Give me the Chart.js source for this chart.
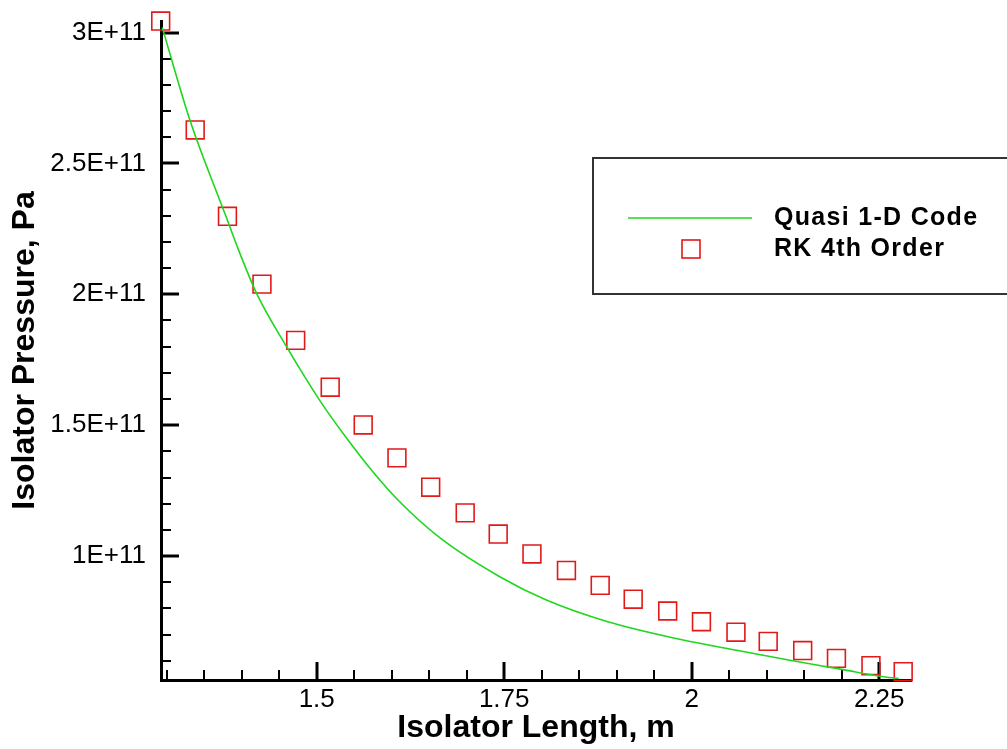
<!DOCTYPE html>
<html>
<head>
<meta charset="utf-8">
<title>Isolator Pressure</title>
<script src="https://cdn.jsdelivr.net/npm/chart.js@4.4.1/dist/chart.umd.min.js"></script>
<style>
  html, body { margin: 0; padding: 0; background: #fff; }
  canvas { display: block; }
</style>
</head>
<body>
<canvas id="pressureChart" width="1007" height="749"></canvas>
<script>
// Quasi 1-D code solution (length in m, pressure in Pa)
const quasiLength = [1.294, 1.331, 1.379, 1.396, 1.420, 1.460, 1.504, 1.540, 1.576, 1.609,
  1.664, 1.744, 1.807, 1.887, 1.984, 2.064, 2.131, 2.202, 2.251, 2.276];
const quasiPressure = [3.020e11, 2.665e11, 2.298e11, 2.168e11, 2.003e11, 1.799e11, 1.595e11, 1.450e11, 1.318e11, 1.212e11,
  1.070e11, 0.921e11, 0.831e11, 0.750e11, 0.682e11, 0.638e11, 0.602e11, 0.566e11, 0.541e11, 0.532e11];

// RK 4th order integration points
const rkLength = [1.292, 1.338, 1.381, 1.427, 1.472, 1.518, 1.562, 1.607, 1.652, 1.698, 1.742, 1.787,
  1.833, 1.878, 1.922, 1.968, 2.013, 2.059, 2.102, 2.148, 2.193, 2.239, 2.282];
const rkPressure = [3.044e11, 2.628e11, 2.298e11, 2.039e11, 1.824e11, 1.645e11, 1.501e11, 1.375e11, 1.263e11, 1.165e11, 1.084e11, 1.008e11,
  0.945e11, 0.888e11, 0.835e11, 0.790e11, 0.749e11, 0.709e11, 0.674e11, 0.639e11, 0.609e11, 0.581e11, 0.558e11];

const seriesNames = ['Quasi 1-D Code', 'RK 4th Order'];

const xTickValues = [1.5, 1.75, 2, 2.25];
const xTickLabels = ['1.5', '1.75', '2', '2.25'];
const yTickValues = [1e11, 1.5e11, 2e11, 2.5e11, 3e11];
const yTickLabels = ['1E+11', '1.5E+11', '2E+11', '2.5E+11', '3E+11'];

const FONT = '"Liberation Sans", Arial, Helvetica, sans-serif';
const lineColor = 'rgb(30, 215, 30)';
const squareColor = 'rgb(225, 25, 25)';

// Tecplot style ticks: pointing into the plot, minor ones in between
const insideTicks = {
  id: 'insideTicks',
  beforeDatasetsDraw(chart) {
    const { ctx, chartArea, scales } = chart;
    const x = scales.x, y = scales.y;
    ctx.save();
    ctx.strokeStyle = '#000';

    const drawX = (v, len, w) => {
      const px = Math.round(x.getPixelForValue(v));
      ctx.lineWidth = w;
      ctx.beginPath();
      ctx.moveTo(px, chartArea.bottom);
      ctx.lineTo(px, chartArea.bottom - len);
      ctx.stroke();
    };
    const drawY = (v, len, w) => {
      const py = Math.round(y.getPixelForValue(v));
      ctx.lineWidth = w;
      ctx.beginPath();
      ctx.moveTo(chartArea.left, py);
      ctx.lineTo(chartArea.left + len, py);
      ctx.stroke();
    };

    for (let k = Math.ceil(x.min / 0.05); k * 0.05 <= x.max; k++) drawX(k * 0.05, 10, 2);
    for (let k = Math.ceil(y.min / 1e10); k * 1e10 <= y.max; k++) drawY(k * 1e10, 10, 2);
    xTickValues.forEach(v => drawX(v, 18, 3));
    yTickValues.forEach(v => drawY(v, 18, 3));
    ctx.restore();
  }
};

// Boxed legend sitting inside the plot, upper right
const boxLegend = {
  id: 'boxLegend',
  afterDraw(chart) {
    const ctx = chart.ctx;
    const ds = chart.data.datasets;
    ctx.save();
    ctx.strokeStyle = '#333';
    ctx.lineWidth = 2;
    ctx.strokeRect(593, 158, 430, 136);

    ctx.strokeStyle = ds[0].borderColor;
    ctx.lineWidth = ds[0].borderWidth;
    ctx.beginPath();
    ctx.moveTo(628, 218);
    ctx.lineTo(752, 218);
    ctx.stroke();

    ctx.strokeStyle = ds[1].borderColor;
    ctx.lineWidth = ds[1].borderWidth;
    ctx.strokeRect(682, 240, 18, 18);

    ctx.fillStyle = '#000';
    ctx.font = 'bold 25px ' + FONT;
    ctx.letterSpacing = '1.3px';
    ctx.textBaseline = 'middle';
    ctx.textAlign = 'left';
    ctx.fillText(seriesNames[0], 774, 218);
    ctx.fillText(seriesNames[1], 774, 249);
    ctx.restore();
  }
};

// keep the plot box fixed: no extra room reserved for edge labels
const noEdgePadding = s => {
  s.paddingTop = 0;
  s.paddingBottom = 0;
  s.paddingLeft = 0;
  s.paddingRight = 0;
};

new Chart(document.getElementById('pressureChart'), {
  type: 'scatter',
  data: {
    datasets: [
      {
        label: seriesNames[0],
        data: quasiLength.map((v, i) => ({ x: v, y: quasiPressure[i] })),
        showLine: true,
        borderColor: lineColor,
        borderWidth: 1.6,
        pointRadius: 0,
        cubicInterpolationMode: 'monotone',
        fill: false
      },
      {
        label: seriesNames[1],
        data: rkLength.map((v, i) => ({ x: v, y: rkPressure[i] })),
        showLine: false,
        pointStyle: 'rect',
        pointRadius: 12.6,
        borderColor: squareColor,
        backgroundColor: 'rgba(0,0,0,0)',
        borderWidth: 1.6,
        clip: false
      }
    ]
  },
  options: {
    responsive: false,
    animation: false,
    devicePixelRatio: 1,
    layout: { padding: { top: 21, right: 96, left: 0, bottom: 0 } },
    plugins: {
      legend: { display: false },
      tooltip: { enabled: false }
    },
    scales: {
      x: {
        type: 'linear',
        min: 1.2924,
        max: 2.2924,
        afterBuildTicks: s => { s.ticks = xTickValues.map(v => ({ value: v })); },
        afterFit: s => { s.height = 69; noEdgePadding(s); },
        grid: { display: false, drawTicks: false },
        border: { display: true, color: '#000', width: 3 },
        ticks: {
          padding: 4,
          color: '#000',
          font: { family: FONT, size: 26 },
          maxRotation: 0,
          callback: (v, i) => xTickLabels[i]
        },
        title: {
          display: true,
          text: 'Isolator Length, m',
          color: '#000',
          font: { family: FONT, size: 32, weight: 'bold' },
          padding: { top: 0, bottom: 2 }
        }
      },
      y: {
        type: 'linear',
        min: 0.5264e11,
        max: 3.0443e11,
        afterBuildTicks: s => { s.ticks = yTickValues.map(v => ({ value: v })); },
        afterFit: s => { s.width = 161; noEdgePadding(s); },
        grid: { display: false, drawTicks: false },
        border: { display: true, color: '#000', width: 3 },
        ticks: {
          padding: 15,
          color: '#000',
          font: { family: FONT, size: 26 },
          callback: (v, i) => yTickLabels[i]
        },
        title: {
          display: true,
          text: 'Isolator Pressure, Pa',
          color: '#000',
          font: { family: FONT, size: 32, weight: 'bold' },
          padding: { top: 6, bottom: 0 }
        }
      }
    }
  },
  plugins: [insideTicks, boxLegend]
});
</script>
</body>
</html>
